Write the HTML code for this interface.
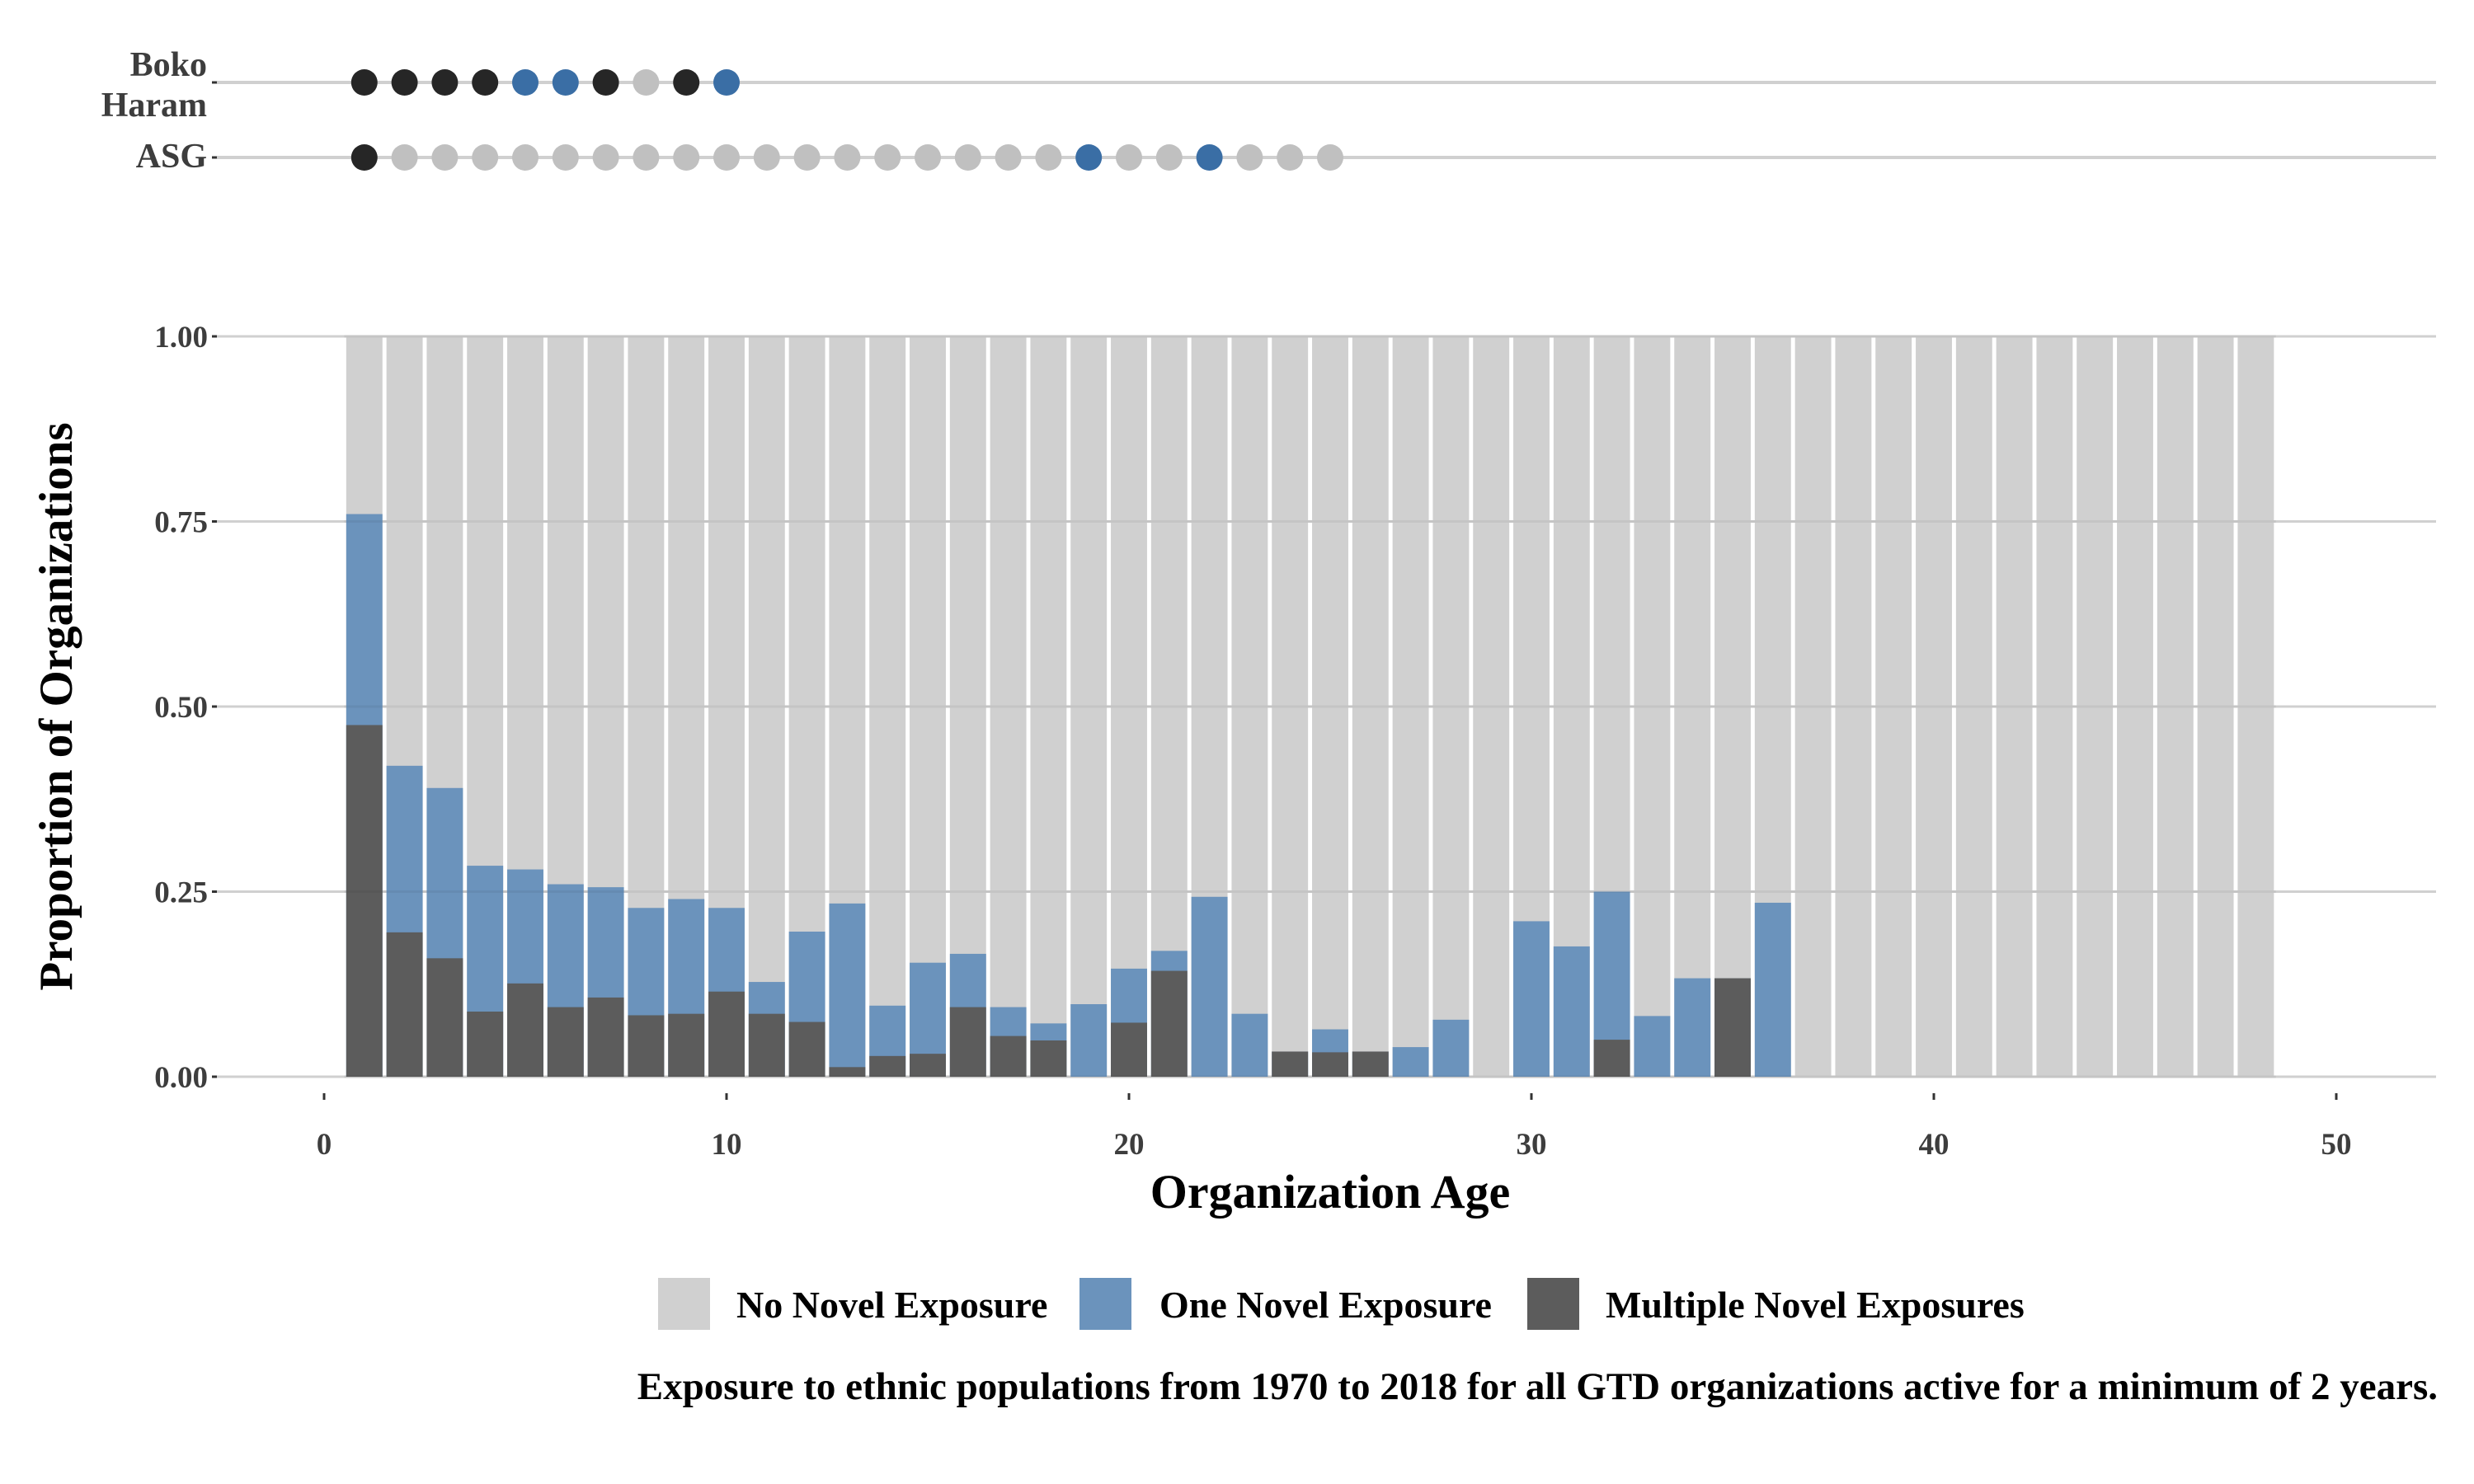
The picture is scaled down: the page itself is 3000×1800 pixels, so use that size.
<!DOCTYPE html>
<html><head><meta charset="utf-8"><style>
html,body{margin:0;padding:0;background:#fff;}
svg{display:block;font-family:"Liberation Serif",serif;font-weight:bold;}
</style></head><body>
<svg id="chart" width="3000" height="1800" viewBox="0 0 3000 1800" xmlns="http://www.w3.org/2000/svg">
<g id="dots"></g>
<g id="grid"></g>
<g id="bars"></g>
<g id="gridover"></g>
<g id="axes"></g>
<text transform="translate(87,857) rotate(-90)" text-anchor="middle" font-size="57" fill="#000">Proportion of Organizations</text>
<text x="1613" y="1465" text-anchor="middle" font-size="58" fill="#000">Organization Age</text>
<g>
<rect x="798" y="1550" width="63" height="63" fill="#d0d0d0"/>
<text x="893" y="1598" font-size="46">No Novel Exposure</text>
<rect x="1309" y="1550" width="63" height="63" fill="#6b93bc"/>
<text x="1406" y="1598" font-size="46">One Novel Exposure</text>
<rect x="1852" y="1550" width="63" height="63" fill="#5c5c5c"/>
<text x="1947" y="1598" font-size="46">Multiple Novel Exposures</text>
</g>
<text x="2956" y="1697" text-anchor="end" font-size="47">Exposure to ethnic populations from 1970 to 2018 for all GTD organizations active for a minimum of 2 years.</text>
</svg>
<script>
const ages = [1,2,3,4,5,6,7,8,9,10,11,12,13,14,15,16,17,18,19,20,21,22,23,24,25,26,27,28,29,30,31,32,33,34,35,36,37,38,39,40,41,42,43,44,45,46,47,48];
const oneOrMore = [0.76,0.42,0.39,0.285,0.28,0.26,0.256,0.228,0.24,0.228,0.128,0.196,0.234,0.096,0.154,0.166,0.094,0.072,0.098,0.146,0.17,0.243,0.085,0.034,0.064,0.034,0.04,0.077,0,0.21,0.176,0.25,0.082,0.133,0.133,0.235,0,0,0,0,0,0,0,0,0,0,0,0];
const multiple = [0.475,0.195,0.16,0.088,0.126,0.094,0.107,0.083,0.085,0.115,0.085,0.074,0.013,0.028,0.031,0.094,0.055,0.049,0,0.073,0.143,0,0,0.034,0.033,0.034,0,0,0,0,0,0.05,0,0,0.133,0,0,0,0,0,0,0,0,0,0,0,0,0];
const yTicks = [0,0.25,0.5,0.75,1];
const yTickLabels = ["0.00","0.25","0.50","0.75","1.00"];
const xTicks = [0,10,20,30,40,50];
const bokoStatus = ["m","m","m","m","o","o","m","n","m","o"];
const asgStatus = ["m","n","n","n","n","n","n","n","n","n","n","n","n","n","n","n","n","n","o","n","n","o","n","n","n"];
const groups = ["Boko Haram","ASG"];

const NS="http://www.w3.org/2000/svg";
const X0=393, XU=48.8, Y0=1306, YH=898;
const xs=v=>X0+v*XU, ys=v=>Y0-v*YH;
function mk(tag,attrs,parent){const e=document.createElementNS(NS,tag);for(const k in attrs)e.setAttribute(k,attrs[k]);parent.appendChild(e);return e;}
const grid=document.getElementById('grid'),bars=document.getElementById('bars'),over=document.getElementById('gridover'),axes=document.getElementById('axes'),dots=document.getElementById('dots');
const GL=263, GR=2954;
yTicks.forEach((t,i)=>{
  const g=mk('line',{x1:GL,x2:GR,y1:ys(t),y2:ys(t),stroke:'#d0d0d0','stroke-width':3},grid);
  
  
  const o=mk('line',{x1:xs(0.5),x2:xs(48.5),y1:ys(t),y2:ys(t),stroke:'rgba(0,0,0,0.05)','stroke-width':3},over);
  
  
  const tk=mk('line',{x1:GL-6,x2:GL,y1:ys(t),y2:ys(t),stroke:'#333','stroke-width':3},axes);
  
  
  const lb=mk('text',{x:GL-11,y:ys(t)+13,'text-anchor':'end','font-size':37,fill:'#3d3d3d'},axes);
  lb.textContent=yTickLabels[i];
  
  
});
xTicks.forEach(t=>{
  const tk=mk('line',{x1:xs(t),x2:xs(t),y1:1326,y2:1334,stroke:'#333','stroke-width':3},axes);
  
  
  const lb=mk('text',{x:xs(t),y:1400,'text-anchor':'middle','font-size':37,fill:'#3d3d3d'},axes);
  lb.textContent=t;
  
  
});
const BW=0.9*XU;
ages.forEach((a,i)=>{
  const x=xs(a)-BW/2;
  const r=mk('rect',{x:x,y:ys(1),width:BW,height:ys(0)-ys(1),fill:'#d0d0d0'},bars);
  
  
  if(oneOrMore[i]>0){
    const b=mk('rect',{x:x,y:ys(oneOrMore[i]),width:BW,height:ys(0)-ys(oneOrMore[i]),fill:'#6b93bc'},bars);
    
    
  }
  if(multiple[i]>0){
    const d=mk('rect',{x:x,y:ys(multiple[i]),width:BW,height:ys(0)-ys(multiple[i]),fill:'#5c5c5c'},bars);
    
    
  }
});
const col={m:'#262626',o:'#3a6ea5',n:'#c0c0c0'};
const rowsY=[100,191];
[bokoStatus,asgStatus].forEach((st,r)=>{
  const y=rowsY[r];
  const l=mk('line',{x1:GL,x2:GR,y1:y,y2:y,stroke:'#d0d0d0','stroke-width':4},dots);
  
  
  const tk=mk('line',{x1:GL-6,x2:GL,y1:y,y2:y,stroke:'#333','stroke-width':3},dots);
  
  
  st.forEach((s,i)=>{
    const c=mk('circle',{cx:xs(i+1),cy:y,r:16,fill:col[s]},dots);
    
    
  });
});
const t1=mk('text',{x:251,y:92,'text-anchor':'end','font-size':42,fill:'#3d3d3d'},dots);
t1.textContent='Boko';


const t2=mk('text',{x:251,y:141,'text-anchor':'end','font-size':42,fill:'#3d3d3d'},dots);
t2.textContent='Haram';


const t3=mk('text',{x:251,y:203,'text-anchor':'end','font-size':42,fill:'#3d3d3d'},dots);
t3.textContent=groups[1];


</script>
</body></html>
